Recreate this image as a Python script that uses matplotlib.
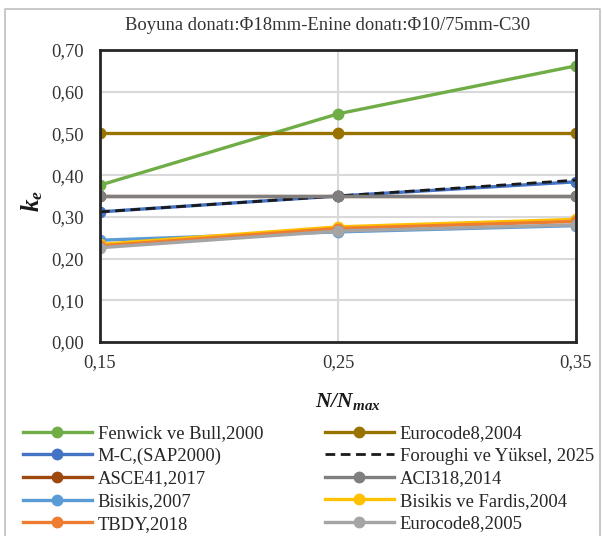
import matplotlib
matplotlib.use("Agg")
import matplotlib.pyplot as plt
from matplotlib.lines import Line2D

plt.rcParams['font.family'] = ['Liberation Serif', 'DejaVu Serif']
plt.rcParams['mathtext.fontset'] = 'custom'
plt.rcParams['mathtext.rm'] = 'Liberation Serif'
plt.rcParams['mathtext.it'] = 'Liberation Serif:italic'
plt.rcParams['mathtext.bf'] = 'Liberation Serif:bold'
plt.rcParams['mathtext.bfit'] = 'Liberation Serif:italic:bold'

# Data
x_vals = [0.15, 0.25, 0.35]
x_ticklabels = ["0,15", "0,25", "0,35"]
y_ticks = [0.0, 0.1, 0.2, 0.3, 0.4, 0.5, 0.6, 0.7]
y_ticklabels = ["0,00", "0,10", "0,20", "0,30", "0,40", "0,50", "0,60", "0,70"]

fenwick = [0.376, 0.547, 0.662]
eurocode2004 = [0.50, 0.50, 0.50]
mc_sap = [0.312, 0.350, 0.384]
foroughi = [0.312, 0.350, 0.388]
asce41 = [0.35, 0.35, 0.35]
aci318 = [0.35, 0.35, 0.35]
bisikis2007 = [0.244, 0.264, 0.279]
bisikis_fardis = [0.234, 0.276, 0.294]
tbdy = [0.230, 0.272, 0.289]
eurocode2005 = [0.226, 0.266, 0.281]

series = [
    ("Fenwick ve Bull,2000", fenwick, "#70AD47", "-", True),
    ("Eurocode8,2004", eurocode2004, "#997300", "-", True),
    ("M-C,(SAP2000)", mc_sap, "#4472C4", "-", True),
    ("Foroughi ve Yüksel, 2025", foroughi, "#1A1A1A", "--", False),
    ("ASCE41,2017", asce41, "#9E480E", "-", True),
    ("ACI318,2014", aci318, "#7F7F7F", "-", True),
    ("Bisikis,2007", bisikis2007, "#5B9BD5", "-", True),
    ("Bisikis ve Fardis,2004", bisikis_fardis, "#FFC000", "-", True),
    ("TBDY,2018", tbdy, "#ED7D31", "-", True),
    ("Eurocode8,2005", eurocode2005, "#A5A5A5", "-", True),
]

fig = plt.figure(figsize=(6.03, 5.36), dpi=100)
W, H = 603, 536
ax = fig.add_axes([100 / W, 1 - 342 / H, (576 - 100) / W, (342 - 50) / H])

handles = {}
for i, (name, vals, color, ls, marker) in enumerate(series):
    if ls == "--":
        ln, = ax.plot(x_vals, vals, color=color, lw=2.0, ls=(0, (3.5, 2)),
                      zorder=3 + i * 0.1)
    else:
        ln, = ax.plot(x_vals, vals, color=color, lw=2.4, ls=ls, marker="o",
                      markersize=7.5, zorder=3 + i * 0.1)
    handles[name] = ln

ax.set_xlim(0.15, 0.35)
ax.set_ylim(0.0, 0.70)
ax.set_xticks(x_vals)
ax.set_xticklabels(x_ticklabels)
ax.set_yticks(y_ticks)
ax.set_yticklabels(y_ticklabels)
ax.tick_params(axis='both', length=0, labelsize=13.3, colors="#333333")
ax.tick_params(axis='x', pad=9)
ax.tick_params(axis='y', pad=11.5)
ax.grid(True, color="#D9D9D9", lw=1.5, zorder=0)
ax.set_axisbelow(True)
for s in ax.spines.values():
    s.set_color("#262626")
    s.set_linewidth(2.0)
    s.set_zorder(5)

fig.text(328 / W, 1 - 25 / H, "Boyuna donatı:Φ18mm-Enine donatı:Φ10/75mm-C30",
         ha="center", va="center", fontsize=13.4, color="#333333")
fig.text(32 / W, 1 - 201 / H, r"$\mathbfit{k_e}$", ha="center", va="center",
         fontsize=18, rotation=90, color="#1A1A1A")
fig.text(348 / W, 1 - 402 / H, r"$\mathbfit{N/N_{max}}$", ha="center",
         va="center", fontsize=15.5, color="#1A1A1A")

order = ["Fenwick ve Bull,2000", "M-C,(SAP2000)", "ASCE41,2017", "Bisikis,2007",
         "TBDY,2018", "Eurocode8,2004", "Foroughi ve Yüksel, 2025", "ACI318,2014",
         "Bisikis ve Fardis,2004", "Eurocode8,2005"]
leg = fig.legend([handles[n] for n in order], order, ncol=2, loc="upper left",
                 bbox_to_anchor=(23 / W, 1 - 425 / H), frameon=False,
                 fontsize=13.4, handlelength=3.7, handletextpad=0.32,
                 columnspacing=3.3, labelspacing=0.3, borderaxespad=0,
                 borderpad=0)
for t in leg.get_texts():
    t.set_color("#262626")

# figure border
fig.add_artist(Line2D([5 / W, 5 / W, 600 / W, 600 / W],
                      [0, 1 - 9 / H, 1 - 9 / H, 0],
                      transform=fig.transFigure, color="#BFBFBF", lw=1.2))

fig.savefig("out.png", dpi=100)
